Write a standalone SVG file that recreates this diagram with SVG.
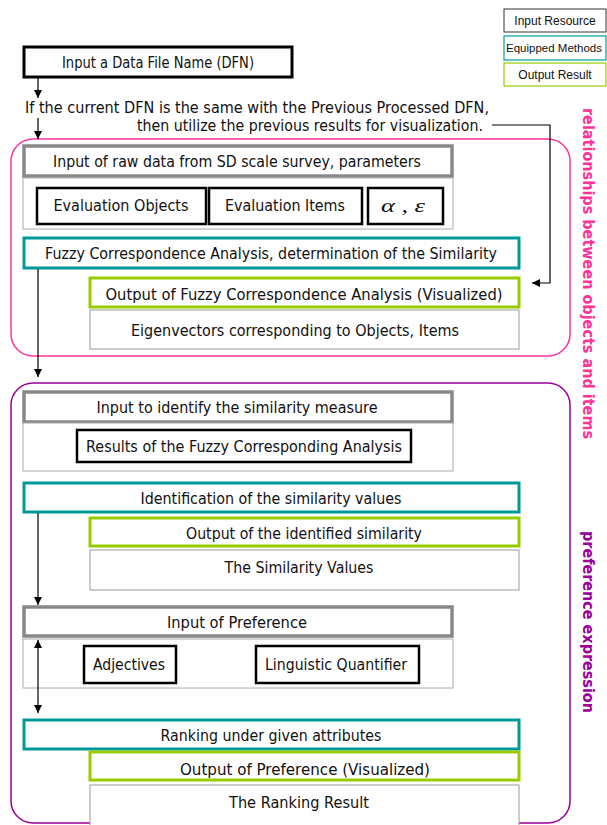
<svg xmlns="http://www.w3.org/2000/svg" width="607" height="825" viewBox="0 0 607 825">
<defs>
<marker id="ah" viewBox="0 0 10 10" refX="10" refY="5" markerWidth="8" markerHeight="8" markerUnits="userSpaceOnUse" orient="auto-start-reverse">
<path d="M0,0 L10,5 L0,10 z" fill="#000"/>
</marker>
<style>
text{font-family:"DejaVu Sans","Liberation Sans",sans-serif;font-size:15px;fill:#111;text-anchor:middle}
.leg{font-family:"Liberation Sans",Arial,sans-serif;font-size:12px}
.legs{font-family:"Liberation Sans",Arial,sans-serif;font-size:11.5px}
.blk{fill:#fff;stroke:#000;stroke-width:3}
.blk2{fill:#fff;stroke:#000;stroke-width:2.5}
.inp{fill:#fff;stroke:#888;stroke-width:3.5}
.cont{fill:#fff;stroke:#aaa;stroke-width:1}
.meth{fill:#fff;stroke:#009999;stroke-width:3}
.out{fill:#fff;stroke:#99cc00;stroke-width:3}
.res{fill:#fff;stroke:#999;stroke-width:1}
.grp{fill:none;stroke-width:1.5}
.side{font-weight:bold;font-size:15px;text-anchor:start}
.con{fill:none;stroke:#000;stroke-width:1.2}
</style>
</defs>
<rect width="607" height="825" fill="#fff"/>

<g id="legend">
<rect x="504" y="9" width="102" height="23" fill="#fff" stroke="#333" stroke-width="1"/>
<text class="leg" x="555" y="25">Input Resource</text>
<rect x="504" y="36" width="102" height="24" fill="#fff" stroke="#00a0a0" stroke-width="1.2"/>
<text class="legs" x="554" y="52">Equipped Methods</text>
<rect x="504" y="63" width="102" height="23" fill="#fff" stroke="#99cc00" stroke-width="1.2"/>
<text class="leg" x="555" y="79">Output Result</text>
</g>

<g id="groups">
<rect class="grp" x="11" y="139" width="559" height="217" rx="22" stroke="#ff3399"/>
<text class="side" transform="translate(583,108) rotate(90)" style="fill:#ff3399" textLength="331" lengthAdjust="spacingAndGlyphs">relationships between objects and items</text>
<rect class="grp" x="11" y="383" width="559" height="440" rx="22" stroke="#990099"/>
<text class="side" transform="translate(583,531) rotate(90)" style="fill:#990099" textLength="182" lengthAdjust="spacingAndGlyphs">preference expression</text>
</g>

<g id="dfn">
<rect class="blk" x="24" y="47" width="268" height="30"/>
<text x="158" y="68" textLength="192" lengthAdjust="spacingAndGlyphs">Input a Data File Name (DFN)</text>
</g>

<g id="note">
<text x="257" y="113" textLength="464" lengthAdjust="spacingAndGlyphs">If the current DFN is the same with the Previous Processed DFN,</text>
<text x="310" y="131" textLength="346" lengthAdjust="spacingAndGlyphs">then utilize the previous results for visualization.</text>
</g>

<g id="raw-input">
<rect class="inp" x="24" y="146" width="428" height="30"/>
<text x="237" y="167" textLength="368" lengthAdjust="spacingAndGlyphs">Input of raw data from SD scale survey, parameters</text>
<rect class="cont" x="23" y="178" width="430" height="51"/>
</g>
<g id="eval-objects">
<rect class="blk2" x="37" y="188" width="169" height="36"/>
<text x="121" y="211" textLength="135" lengthAdjust="spacingAndGlyphs">Evaluation Objects</text>
</g>
<g id="eval-items">
<rect class="blk2" x="209" y="188" width="153" height="36"/>
<text x="285" y="211" textLength="120" lengthAdjust="spacingAndGlyphs">Evaluation Items</text>
</g>
<g id="params">
<rect class="blk2" x="368" y="188" width="75" height="36"/>
<text x="403" y="212" style="font-family:'Liberation Serif','DejaVu Serif',serif;font-style:italic;font-size:19px" textLength="44" lengthAdjust="spacingAndGlyphs">α , ε</text>
</g>

<g id="fca">
<rect class="meth" x="24" y="238" width="495" height="30"/>
<text x="271" y="259" textLength="452" lengthAdjust="spacingAndGlyphs">Fuzzy Correspondence Analysis, determination of the Similarity</text>
</g>
<g id="fca-output">
<rect class="out" x="90" y="278" width="429" height="29"/>
<text x="304" y="300" textLength="397" lengthAdjust="spacingAndGlyphs">Output of Fuzzy Correspondence Analysis (Visualized)</text>
</g>
<g id="eigenvectors">
<rect class="res" x="90" y="310" width="429" height="39"/>
<text x="295" y="336" textLength="328" lengthAdjust="spacingAndGlyphs">Eigenvectors corresponding to Objects, Items</text>
</g>

<g id="sim-input">
<rect class="inp" x="24" y="392" width="428" height="30"/>
<text x="237" y="413" textLength="281" lengthAdjust="spacingAndGlyphs">Input to identify the similarity measure</text>
<rect class="cont" x="23" y="423" width="430" height="48"/>
</g>
<g id="fca-results">
<rect class="blk2" x="77" y="430" width="334" height="32"/>
<text x="244" y="452" textLength="316" lengthAdjust="spacingAndGlyphs">Results of the Fuzzy Corresponding Analysis</text>
</g>
<g id="sim-ident">
<rect class="meth" x="24" y="483" width="495" height="29"/>
<text x="271" y="504" textLength="261" lengthAdjust="spacingAndGlyphs">Identification of the similarity values</text>
</g>
<g id="sim-output">
<rect class="out" x="90" y="518" width="429" height="28"/>
<text x="304" y="539" textLength="236" lengthAdjust="spacingAndGlyphs">Output of the identified similarity</text>
</g>
<g id="sim-values">
<rect class="res" x="90" y="550" width="429" height="40"/>
<text x="299" y="573" textLength="149" lengthAdjust="spacingAndGlyphs">The Similarity Values</text>
</g>

<g id="pref-input">
<rect class="inp" x="24" y="607" width="428" height="29"/>
<text x="237" y="628" textLength="140" lengthAdjust="spacingAndGlyphs">Input of Preference</text>
<rect class="cont" x="23" y="639" width="430" height="49"/>
</g>
<g id="adjectives">
<rect class="blk2" x="84" y="646" width="92" height="37"/>
<text x="129" y="670" textLength="72" lengthAdjust="spacingAndGlyphs">Adjectives</text>
</g>
<g id="quantifier">
<rect class="blk2" x="256" y="646" width="163" height="37"/>
<text x="336" y="670" textLength="142" lengthAdjust="spacingAndGlyphs">Linguistic Quantifier</text>
</g>
<g id="ranking">
<rect class="meth" x="24" y="720" width="495" height="29"/>
<text x="271" y="741" textLength="221" lengthAdjust="spacingAndGlyphs">Ranking under given attributes</text>
</g>
<g id="pref-output">
<rect class="out" x="90" y="752" width="429" height="28"/>
<text x="305" y="775" textLength="250" lengthAdjust="spacingAndGlyphs">Output of Preference (Visualized)</text>
</g>
<g id="ranking-result">
<rect class="res" x="90" y="785" width="429" height="45"/>
<text x="299" y="808" textLength="140" lengthAdjust="spacingAndGlyphs">The Ranking Result</text>
</g>

<g id="connectors">
<line class="con" x1="38" y1="78" x2="38" y2="98" marker-end="url(#ah)"/>
<line class="con" x1="38" y1="118" x2="38" y2="139" marker-end="url(#ah)"/>
<polyline class="con" points="492,125 550,125 550,283 532,283" marker-end="url(#ah)"/>
<line class="con" x1="38" y1="269" x2="38" y2="377" marker-end="url(#ah)"/>
<line class="con" x1="38" y1="513" x2="38" y2="605" marker-end="url(#ah)"/>
<line class="con" x1="38" y1="640" x2="38" y2="713" marker-start="url(#ah)" marker-end="url(#ah)"/>
</g>
</svg>
